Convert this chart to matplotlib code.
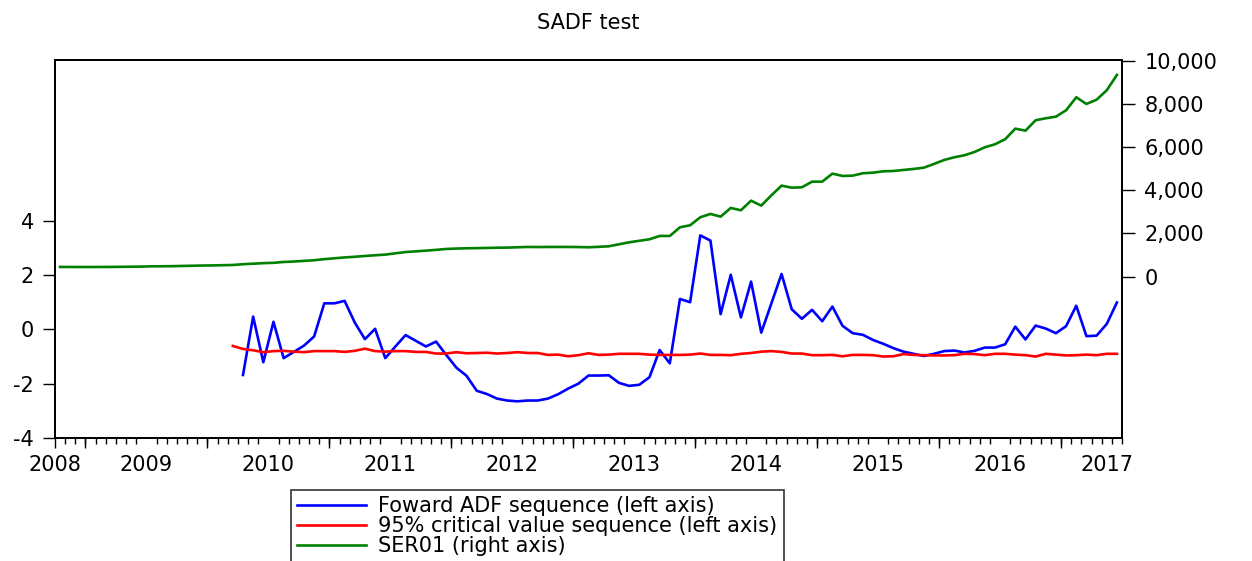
import matplotlib
matplotlib.use('Agg')
import matplotlib.pyplot as plt
import numpy as np
import pandas as pd
from matplotlib.ticker import FuncFormatter

plt.rcParams['font.family'] = ['DejaVu Sans']
plt.rcParams['font.size'] = 15
plt.rcParams['axes.unicode_minus'] = False

# monthly sample 2008M10 - 2017M06
months = pd.period_range('2008-10', '2017-06', freq='M')

# forward ADF sequence (left axis), starts 2010M04
adf_start = '2010-04'
adf_seq = [-1.68, 0.47, -1.21, 0.28, -1.06, -0.83, -0.60, -0.26, 0.96, 0.96,
           1.05, 0.25, -0.36, 0.02, -1.06, -0.63, -0.21, -0.42, -0.63, -0.45,
           -0.94, -1.41, -1.71, -2.26, -2.38, -2.55, -2.62, -2.65, -2.62, -2.62,
           -2.55, -2.39, -2.18, -2.00, -1.70, -1.70, -1.69, -1.97, -2.08, -2.04,
           -1.76, -0.76, -1.25, 1.12, 1.00, 3.46, 3.27, 0.56, 2.01, 0.44,
           1.76, -0.12, 0.96, 2.04, 0.74, 0.39, 0.72, 0.30, 0.84, 0.13,
           -0.14, -0.20, -0.39, -0.53, -0.69, -0.82, -0.90, -0.98, -0.90, -0.80,
           -0.78, -0.85, -0.79, -0.67, -0.67, -0.55, 0.10, -0.37, 0.14, 0.03,
           -0.14, 0.12, 0.87, -0.25, -0.23, 0.20, 0.99]

# 95% critical value sequence (left axis), starts 2010M03
cv_start = '2010-03'
cv_seq = [-0.61, -0.72, -0.77, -0.84, -0.80, -0.79, -0.82, -0.84, -0.80, -0.80,
          -0.80, -0.83, -0.79, -0.71, -0.80, -0.82, -0.80, -0.80, -0.83, -0.83,
          -0.89, -0.89, -0.84, -0.88, -0.87, -0.86, -0.89, -0.87, -0.84, -0.87,
          -0.87, -0.94, -0.93, -0.99, -0.95, -0.88, -0.94, -0.93, -0.90, -0.90,
          -0.90, -0.93, -0.94, -0.94, -0.94, -0.93, -0.89, -0.94, -0.94, -0.95,
          -0.90, -0.87, -0.82, -0.80, -0.83, -0.89, -0.89, -0.95, -0.95, -0.94,
          -0.99, -0.94, -0.94, -0.95, -1.00, -0.99, -0.91, -0.94, -0.95, -0.96,
          -0.96, -0.95, -0.90, -0.91, -0.95, -0.90, -0.90, -0.93, -0.95, -1.00,
          -0.90, -0.93, -0.96, -0.95, -0.93, -0.95, -0.90, -0.90]

# SER01 (right axis), full sample
ser01 = [450, 448, 447, 447, 448, 450, 455, 460, 465, 478,
         480, 485, 495, 505, 515, 520, 530, 540, 575, 600,
         625, 640, 680, 700, 730, 760, 810, 850, 890, 920,
         958, 990, 1020, 1080, 1140, 1170, 1204, 1240, 1282, 1300,
         1313, 1320, 1329, 1340, 1344, 1360, 1375, 1370, 1375, 1375,
         1375, 1370, 1360, 1380, 1406, 1498, 1590, 1660, 1730, 1884,
         1884, 2285, 2378, 2749, 2903, 2778, 3180, 3073, 3519, 3287,
         3767, 4213, 4120, 4136, 4398, 4398, 4769, 4662, 4677, 4786,
         4815, 4877, 4892, 4940, 4986, 5046, 5218, 5403, 5527, 5620,
         5773, 5990, 6129, 6361, 6852, 6759, 7240, 7333, 7407, 7703,
         8305, 7995, 8194, 8628, 9338]

labels = ['Foward ADF sequence (left axis)',
          '95% critical value sequence (left axis)',
          'SER01 (right axis)']


def full_series(vals, start):
    out = np.full(len(months), np.nan)
    i0 = months.get_loc(pd.Period(start, freq='M'))
    out[i0:i0 + len(vals)] = vals
    return out


x = np.arange(len(months))
adf = full_series(adf_seq, adf_start)
cv = full_series(cv_seq, cv_start)

W, H = 1252, 561
fig = plt.figure(figsize=(W / 100, H / 100), dpi=100)
ax = fig.add_axes([55 / W, 1 - 438 / H, (1122 - 55) / W, (438 - 60) / H])

l1, = ax.plot(x, adf, color='#0000ff', lw=1.9)
l2, = ax.plot(x, cv, color='#ff0000', lw=1.9)
ax.set_ylim(-4, 9.92)
ax.set_yticks([-4, -2, 0, 2, 4])
ax.set_xlim(-0.5, len(months) - 0.5)

ax2 = ax.twinx()
l3, = ax2.plot(x, ser01, color='#008000', lw=1.9)
ax2.set_ylim(-7470, 10030)
ax2.set_yticks(range(0, 10001, 2000))
ax2.yaxis.set_major_formatter(FuncFormatter(lambda v, p: f'{int(v):,}'))

for a in (ax, ax2):
    for s in a.spines.values():
        s.set_linewidth(1.3)

ax.tick_params(axis='y', direction='out', length=9, width=1, pad=6)
ax2.tick_params(axis='y', direction='out', length=9, width=1, pad=7)

# x axis: year labels, month minor ticks, longer year ticks
years = sorted(set(m.year for m in months))
lab_pos = []
for y in years:
    idx = [i for i, m in enumerate(months) if m.year == y]
    if y == years[0]:
        lab_pos.append(-0.5)
    elif y == years[-1]:
        lab_pos.append(len(months) - 2.0)
    else:
        lab_pos.append(np.mean(idx))
ax.set_xticks(lab_pos)
ax.set_xticklabels([str(y) for y in years])
ax.set_xticks(np.arange(-0.5, len(months), 1), minor=True)
ax.tick_params(axis='x', which='major', length=0, pad=12)
ax.tick_params(axis='x', which='minor', direction='out', length=4, width=1)

year_ticks = [-0.5] + [i - 0.5 for i, m in enumerate(months) if m.month == 1]
sec = ax.secondary_xaxis('bottom')
sec.set_xticks(year_ticks)
sec.set_xticklabels([])
sec.tick_params(axis='x', direction='out', length=7, width=1)
sec.spines['bottom'].set_visible(False)

ax.set_title('SADF test', pad=22, fontsize=15)

leg = fig.legend([l1, l2, l3], labels, loc='upper left',
                 bbox_to_anchor=(291 / W, 1 - 490 / H), borderaxespad=0,
                 frameon=True, fancybox=False, edgecolor='black',
                 handlelength=3.3, handletextpad=0.6, labelspacing=0.0,
                 borderpad=0.3, fontsize=15)
leg.get_frame().set_linewidth(1.2)

fig.savefig('out.png', dpi=100)
